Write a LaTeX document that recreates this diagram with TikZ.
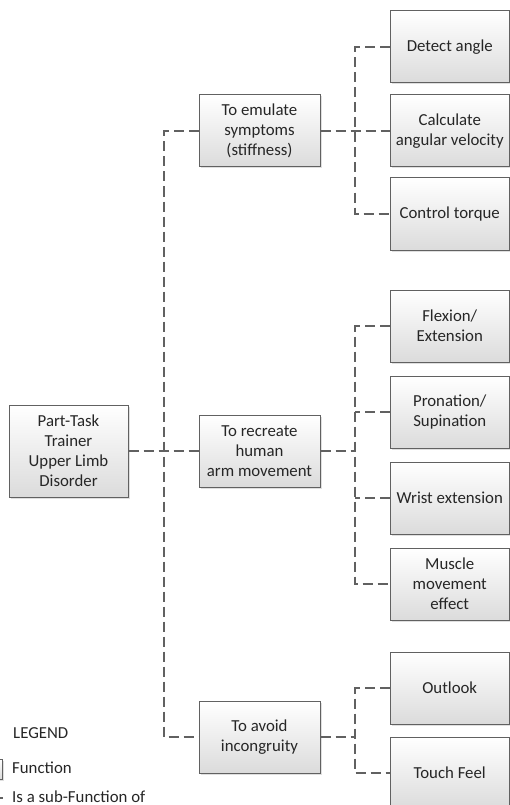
\documentclass[tikz,border=0pt]{standalone}
\usepackage{fontspec}
\setmainfont{Carlito}
\usetikzlibrary{shadows}
\begin{document}
\begin{tikzpicture}[x=1pt,y=-1pt,
    fbox/.style={draw=black!62, line width=1pt, top color=white, bottom color=black!14,
      drop shadow={shadow xshift=1.5pt, shadow yshift=-1.5pt, opacity=0.25},
      align=center, text=black!85, font=\fontsize{16.8}{20}\selectfont, inner sep=2pt},
    midbox/.style={fbox, minimum width=121pt, minimum height=72pt},
    leafbox/.style={fbox, minimum width=119.5pt, minimum height=72pt},
    link/.style={draw=black!62, line width=2pt, dash pattern=on 10pt off 5pt},
    legtext/.style={anchor=base west, inner sep=0pt, text=black!85, font=\fontsize{16.8}{20}\selectfont}]
    \clip (0,0) rectangle (510,805);
    \path[use as bounding box] (0,0) rectangle (510,805);
    %tikz functions
    \node[fbox, minimum width=119pt, minimum height=92pt] (root) at (68.5,451) {Part-Task\\Trainer\\Upper Limb\\Disorder};
    \node[midbox] (emulate) at (259.5,131) {To emulate\\symptoms\\(stiffness)};
    \node[midbox] (recreate) at (259.5,451) {To recreate\\human\\arm movement};
    \node[midbox] (avoid) at (259.5,737) {To avoid\\incongruity};
    % sub-functions
    \node[leafbox] (detect) at (449.75,47) {Detect angle};
    \node[leafbox] (calc) at (449.75,131) {Calculate\\angular velocity};
    \node[leafbox] (torque) at (449.75,214) {Control torque};
    \node[leafbox] (flex) at (449.75,326) {Flexion/\\Extension};
    \node[leafbox] (pron) at (449.75,412) {Pronation/\\Supination};
    \node[leafbox] (wrist) at (449.75,498) {Wrist extension};
    \node[leafbox] (muscle) at (449.75,584) {Muscle\\movement\\effect};
    \node[leafbox] (outlook) at (449.75,688) {Outlook};
    \node[leafbox] (touch) at (449.75,773) {Touch Feel};

    \coordinate (trunk) at (164,451);
    \coordinate (fork1) at (355,131);
    \coordinate (fork2) at (355,451);
    \coordinate (fork3) at (355,737);
    \draw[link] (root) -- (recreate);
    \draw[link] (emulate.west) -| (trunk) |- (avoid.west);
    \draw[link] (emulate) -- (calc);
    \draw[link] (detect.west) -| (fork1) |- (torque.west);
    \draw[link] (recreate) -- (fork2);
    \draw[link] (flex.west) -| (fork2) |- (muscle.west);
    \draw[link] (pron.west) -- (pron.west -| fork2);
    \draw[link] (wrist.west) -- (wrist.west -| fork2);
    \draw[link] (avoid) -- (fork3);
    \draw[link] (outlook.west) -| (fork3) |- (touch.west);

    % legend
    \node[legtext] (legtitle) at (13,738) {LEGEND};
    \node[fbox, minimum width=40pt, minimum height=20pt] (legbox) at (-18,769) {};
    \node[legtext] (legfun) at (12,773) {Function};
    \coordinate (legdashA) at (-7,798);
    \coordinate (legdashB) at (3,798);
    \draw[link] (legdashA) -- (legdashB);
    \node[legtext] (legsub) at (12,802) {Is a sub-Function of};
\end{tikzpicture}
\end{document}
